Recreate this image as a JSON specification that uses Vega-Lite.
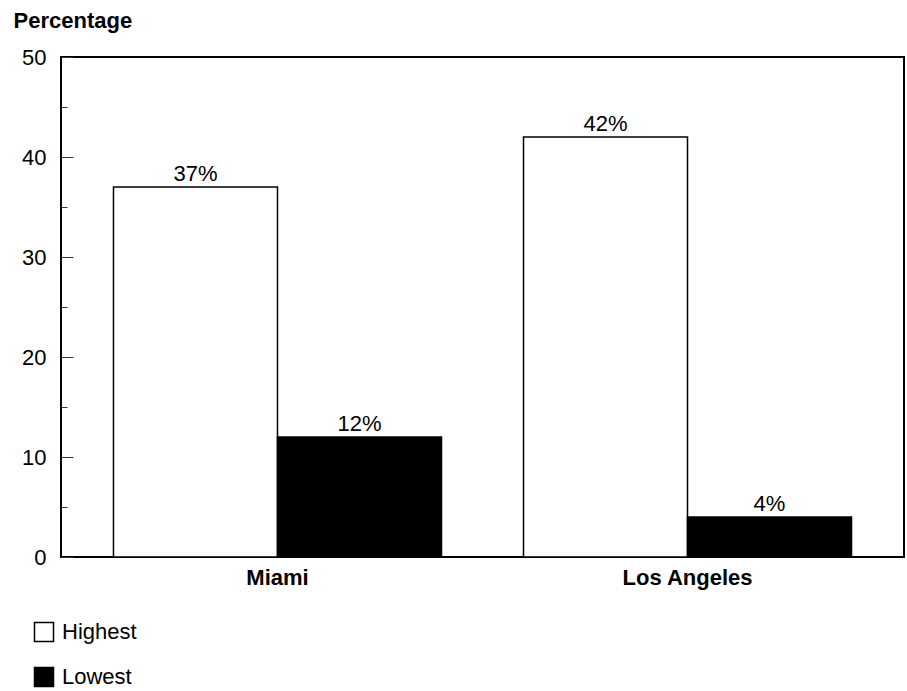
{
  "$schema": "https://vega.github.io/schema/vega-lite/v6.json",
  "width": 843,
  "height": 500,
  "autosize": {"type": "none"},
  "padding": {"left": 61, "top": 57, "right": 3, "bottom": 134},
  "config": {
    "font": "Liberation Sans",
    "view": {"stroke": "black", "strokeWidth": 2},
    "axis": {"domain": false, "grid": false}
  },
  "data": {
    "values": [
      {"city": "Miami", "level": "Highest", "value": 37},
      {"city": "Miami", "level": "Lowest", "value": 12},
      {"city": "Los Angeles", "level": "Highest", "value": 42},
      {"city": "Los Angeles", "level": "Lowest", "value": 4}
    ]
  },
  "transform": [{"calculate": "datum.value + '%'", "as": "label"}],
  "encoding": {
    "x": {
      "field": "city",
      "type": "nominal",
      "sort": ["Miami", "Los Angeles"],
      "scale": {"paddingInner": 0.2, "paddingOuter": 0.128},
      "axis": {
        "title": null,
        "labelAngle": 0,
        "ticks": false,
        "labelPadding": 10,
        "labelFontSize": 22,
        "labelFontWeight": "bold",
        "labelColor": "black"
      }
    },
    "xOffset": {
      "field": "level",
      "type": "nominal",
      "sort": ["Highest", "Lowest"],
      "scale": {"paddingInner": 0, "paddingOuter": 0}
    },
    "y": {
      "field": "value",
      "type": "quantitative",
      "scale": {"domain": [0, 50], "nice": false},
      "axis": {
        "values": [0, 5, 10, 15, 20, 25, 30, 35, 40, 45, 50],
        "labelExpr": "datum.value % 10 === 0 ? datum.label : ''",
        "tickSize": {"condition": {"test": "datum.value % 10 === 0", "value": -12}, "value": -6},
        "tickColor": "#333333",
        "tickWidth": 1,
        "labelPadding": 27,
        "labelFontSize": 22,
        "labelColor": "black",
        "title": "Percentage",
        "titleAngle": 0,
        "titleAlign": "left",
        "titleBaseline": "alphabetic",
        "titleX": -48,
        "titleY": -30,
        "titleFontSize": 22,
        "titleFontWeight": "bold",
        "titleColor": "black"
      }
    }
  },
  "layer": [
    {
      "mark": {"type": "bar", "stroke": "black", "strokeWidth": 1.5},
      "encoding": {
        "fill": {
          "field": "level",
          "type": "nominal",
          "scale": {"domain": ["Highest", "Lowest"], "range": ["white", "black"]},
          "legend": {
            "title": null,
            "orient": "none",
            "legendX": -28,
            "legendY": 564,
            "direction": "vertical",
            "padding": 0,
            "symbolType": "square",
            "symbolSize": 361,
            "symbolStrokeColor": "black",
            "symbolStrokeWidth": 1.5,
            "labelFontSize": 22,
            "labelColor": "black",
            "labelOffset": 7,
            "rowPadding": 19
          }
        }
      }
    },
    {
      "mark": {"type": "text", "baseline": "alphabetic", "dy": -6, "fontSize": 22, "color": "black"},
      "encoding": {"text": {"field": "label"}}
    }
  ]
}
